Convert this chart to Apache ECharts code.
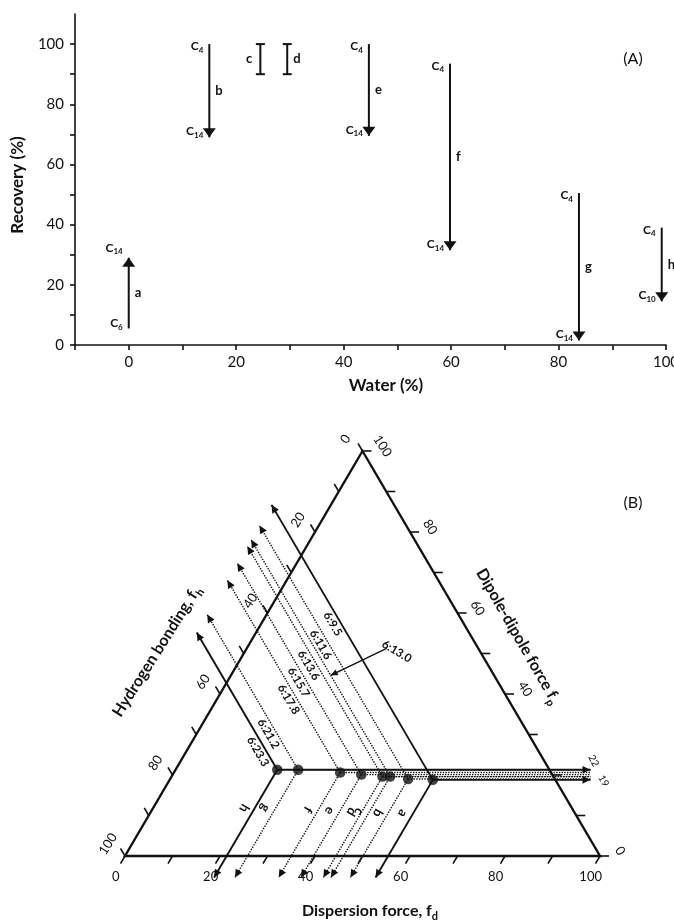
<!DOCTYPE html>
<html>
<head>
<meta charset="utf-8">
<title>Recovery and solubility parameters</title>
<script src="https://cdn.jsdelivr.net/npm/echarts@6.0.0/dist/echarts.min.js"></script>
<style>
html,body{margin:0;padding:0;background:#fff;}
#chart{width:674px;height:924px;}
</style>
</head>
<body>
<div id="chart"></div>
<script>
// ---------------- Panel A data ----------------
const caseIds   = ['a','b','c','d','e','f','g','h'];
const waterPct  = [0, 15, 24.5, 29.5, 44.7, 59.8, 83.8, 99.2];
const recFrom   = [5.5, 100, 90, 90, 100, 93.5, 50.5, 39];
const recTo     = [29, 69, 100, 100, 69.5, 31.5, 1.5, 14.5];
const fromChain = ['6','4','','','4','4','4','4'];
const toChain   = ['14','14','','','14','14','14','10'];
const isRange   = [false,false,true,true,false,false,false,false];
const xTicksA   = [-10,0,10,20,30,40,50,60,70,80,90,100];
const xLabelsA  = [0,20,40,60,80,100];
const yTicksA   = [0,10,20,30,40,50,60,70,80,90,100];
const yLabelsA  = [0,20,40,60,80,100];

// ---------------- Panel B data (ternary: fd, fp; fh = 100 - fd - fp) ----------------
const fdVals       = [55.4, 50.1, 46.0, 44.4, 39.7, 35.0, 25.8, 21.4];
const fpVals       = [18.8, 19.0, 19.6, 19.6, 20.1, 20.6, 21.3, 21.3];
const ratioLabels  = ['6:9.5','6:11.6','6:13.0','6:13.6','6:15.7','6:17.8','6:21.2','6:23.3'];
const fpReadLabels = ['19','','','','','','','22'];
const ternTicks    = [0,10,20,30,40,50,60,70,80,90,100];
const fdTickLabels = [0,20,40,60,80,100];
const fpTickLabels = [0,40,60,80,100];
const fhTickLabels = [0,20,40,60,80,100];

const FONT = 'Lato, "Open Sans", "DejaVu Sans", sans-serif';
const INK = '#111';

function seg(p, q, extra) {
  return {type:'line', shape:{x1:p[0], y1:p[1], x2:q[0], y2:q[1]},
    style:Object.assign({stroke:INK, lineWidth:1.8, fill:null}, extra || {})};
}
function unit(p, q) {
  const dx = q[0]-p[0], dy = q[1]-p[1]; const d = Math.hypot(dx, dy) || 1;
  return [dx/d, dy/d];
}
function arrowHead(tip, from, len, half) {
  const u = unit(from, tip);
  const bx = tip[0]-u[0]*len, by = tip[1]-u[1]*len;
  return {type:'polygon', shape:{points:[[tip[0],tip[1]],[bx-u[1]*half, by+u[0]*half],[bx+u[1]*half, by-u[0]*half]]},
    style:{fill:INK, stroke:null}};
}
function txt(x, y, text, size, weight, align, rot) {
  return {type:'text', x:x, y:y, rotation:rot || 0,
    style:{text:String(text), x:0, y:0, fill:INK, fontSize:size, fontWeight:weight || 'normal',
      fontFamily:FONT, align:align || 'center', verticalAlign:'middle'}};
}
function subRich(size, subSize) {
  return {
    m:{fontSize:size, fontWeight:'bold', fontFamily:FONT, fill:INK, verticalAlign:'top'},
    s:{fontSize:subSize, fontWeight:'bold', fontFamily:FONT, fill:INK, verticalAlign:'bottom',
       padding:[Math.round(size*0.5),0,0,0]}
  };
}
function chainLabel(x, y, sub) {
  return {type:'text', x:x, y:y,
    style:{text:'{m|C}{s|' + sub + '}', x:0, y:0, fill:INK, align:'right', verticalAlign:'middle',
      rich:subRich(12, 8)}};
}

// ---------- Panel A renderer ----------
function renderA(params, api) {
  const i = params.dataIndex;
  const p0 = api.coord([api.value(0), api.value(1)]);
  const p1 = api.coord([api.value(0), api.value(2)]);
  const ch = [seg(p0, p1, {lineWidth:2})];
  if (isRange[i]) {
    ch.push(seg([p0[0]-4.5, p0[1]], [p0[0]+4.5, p0[1]], {lineWidth:2}));
    ch.push(seg([p1[0]-4.5, p1[1]], [p1[0]+4.5, p1[1]], {lineWidth:2}));
  } else {
    ch.push(arrowHead(p1, p0, 9, 6.5));
    const startUpper = p0[1] < p1[1];
    ch.push(chainLabel(p0[0]-6, p0[1] + (startUpper ? 3 : -4), fromChain[i]));
    ch.push(chainLabel(p1[0]-6, p1[1] + (startUpper ? -5 : -9), toChain[i]));
  }
  const midY = (p0[1] + p1[1]) / 2;
  if (caseIds[i] === 'c') ch.push(txt(p0[0]-8, midY, caseIds[i], 13, 'bold', 'right'));
  else ch.push(txt(p0[0]+6, midY, caseIds[i], 13, 'bold', 'left'));
  return {type:'group', children:ch};
}

// ---------- Panel B renderers ----------
function tern(api, fd, fp) { return api.coord([fd + fp/2, fp]); }

function renderFrame(params, api) {
  const ch = [];
  const L = tern(api, 0, 0), R = tern(api, 100, 0), T = tern(api, 0, 100);
  ch.push({type:'polygon', shape:{points:[L, R, T]}, style:{fill:'none', stroke:INK, lineWidth:2.4}});
  const tk = 1.9;
  ternTicks.forEach(function (v) {
    ch.push(seg(tern(api, v, 0), tern(api, v, -tk), {lineWidth:1.6}));                 // fd axis
    ch.push(seg(tern(api, 100-v, v), tern(api, 100-v+tk, v), {lineWidth:1.6}));       // fp axis
    ch.push(seg(tern(api, 0, 100-v), tern(api, -tk, 100-v+tk), {lineWidth:1.6}));     // fh axis
  });
  fdTickLabels.forEach(function (v) {
    const p = tern(api, v, -5.2);
    ch.push(txt(p[0]+3, p[1], v, 13, 'normal', 'center'));
  });
  fpTickLabels.forEach(function (v) {
    const p = tern(api, 100-v, v);
    ch.push(txt(p[0]+20, p[1]-5, v, 13, 'normal', 'center', -1.0));
  });
  fhTickLabels.forEach(function (v) {
    const p = tern(api, 0, 100-v);
    ch.push(txt(p[0]-17, p[1]-12, v, 13, 'normal', 'center', 1.0));
  });
  return {type:'group', children:ch};
}

function renderSolvent(params, api) {
  const i = params.dataIndex;
  const fd = fdVals[i], fp = fpVals[i];
  const pt = tern(api, fd, fp);
  const solid = (i === 0 || i === fdVals.length - 1);
  const st = solid ? {lineWidth:1.9} : {lineWidth:1.4, lineDash:[1.4, 1.3]};
  const ch = [];
  // constant fh (up-left) reading line
  const ul = tern(api, -12.5, fd + fp + 12.5);
  ch.push(seg(pt, ul, st), arrowHead(ul, pt, 8, 3.8));
  // constant fd (down-left) reading line
  const dl = tern(api, fd, -5.3);
  ch.push(seg(pt, dl, st), arrowHead(dl, pt, 8, 3.8));
  // constant fp (right) reading line
  const rt = api.coord([98, fp]);
  ch.push(seg(pt, rt, st));
  if (solid) ch.push(arrowHead(rt, pt, 8, 3.8));
  // solvent letter on the fd line
  const d = unit(pt, dl);
  const m = tern(api, fd, fp/2);
  ch.push(txt(m[0] - d[1]*9, m[1] + d[0]*9, caseIds[i], 13, 'bold', 'center', -Math.atan2(d[1], d[0])));
  // ratio label on the fh line
  const u = unit(pt, ul);
  if (ratioLabels[i] === '6:13.0') {
    const tip = tern(api, 21, fd + fp - 21);
    const from = [tip[0]+56, tip[1]-27];
    ch.push(seg(from, tip, {lineWidth:1.4}), arrowHead(tip, from, 7, 3.2));
    ch.push(txt(tip[0]+66, tip[1]-24, ratioLabels[i], 11.5, 'bold', 'center', -0.54));
  } else {
    const q = tern(api, 16, fd + fp - 16);
    ch.push(txt(q[0] + u[1]*7.5, q[1] - u[0]*7.5, ratioLabels[i], 11.5, 'bold', 'center', -Math.atan2(-u[1], -u[0])));
  }
  if (fpReadLabels[i]) {
    const upper = fp === Math.max.apply(null, fpVals);
    ch.push(txt(rt[0] + (upper ? 3 : 13), rt[1] + (upper ? -9 : 1), fpReadLabels[i], 10, 'normal', 'center', -1.1));
  }
  return {type:'group', children:ch};
}

const chart = echarts.init(document.getElementById('chart'), null, {renderer:'canvas'});

const axisLineStyle = {color:INK, width:1.6};
const option = {
  animation:false,
  backgroundColor:'#fff',
  grid:[
    {left:75, top:14, width:591, height:331, containLabel:false, outerBoundsMode:'none'},
    {left:125, top:451, width:475, height:405, containLabel:false, outerBoundsMode:'none'}
  ],
  xAxis:[
    {gridIndex:0, type:'value', min:-10, max:100, interval:10,
      axisLine:{show:true, onZero:false, lineStyle:axisLineStyle},
      axisTick:{show:true, length:5, inside:false, customValues:xTicksA, lineStyle:axisLineStyle},
      axisLabel:{show:true, customValues:xLabelsA, margin:10, fontSize:15, color:INK, fontFamily:FONT},
      splitLine:{show:false}},
    {gridIndex:1, type:'value', min:0, max:100, show:false}
  ],
  yAxis:[
    {gridIndex:0, type:'value', min:0, max:110, interval:10,
      axisLine:{show:true, onZero:false, lineStyle:axisLineStyle},
      axisTick:{show:true, length:5, inside:false, customValues:yTicksA, lineStyle:axisLineStyle},
      axisLabel:{show:true, customValues:yLabelsA, margin:11, fontSize:15, color:INK, fontFamily:FONT},
      splitLine:{show:false}},
    {gridIndex:1, type:'value', min:0, max:100, show:false}
  ],
  series:[
    {type:'custom', name:'recovery', xAxisIndex:0, yAxisIndex:0, clip:false, silent:true,
      data:waterPct.map(function (w, i) { return [w, recFrom[i], recTo[i]]; }),
      encode:{x:0, y:[1,2]},
      renderItem:renderA},
    {type:'custom', name:'frame', xAxisIndex:1, yAxisIndex:1, clip:false, silent:true,
      data:[[0, 0]], renderItem:renderFrame},
    {type:'custom', name:'solvents', xAxisIndex:1, yAxisIndex:1, clip:false, silent:true,
      data:fdVals.map(function (fd, i) { return [fd + fpVals[i]/2, fpVals[i]]; }),
      renderItem:renderSolvent},
    {type:'scatter', name:'points', xAxisIndex:1, yAxisIndex:1, silent:true, z:5,
      symbol:'circle', symbolSize:10.5, itemStyle:{color:INK},
      data:fdVals.map(function (fd, i) { return [fd + fpVals[i]/2, fpVals[i]]; })}
  ],
  graphic:[
    {type:'text', x:18, y:185, rotation:Math.PI/2,
      style:{text:'Recovery (%)', fill:INK, fontSize:17, fontWeight:'bold', fontFamily:FONT, align:'center', verticalAlign:'middle'}},
    {type:'text', x:386, y:386,
      style:{text:'Water (%)', fill:INK, fontSize:17, fontWeight:'bold', fontFamily:FONT, align:'center', verticalAlign:'middle'}},
    {type:'text', x:633, y:59,
      style:{text:'(A)', fill:INK, fontSize:16, fontFamily:FONT, align:'center', verticalAlign:'middle'}},
    {type:'text', x:633, y:503,
      style:{text:'(B)', fill:INK, fontSize:16, fontFamily:FONT, align:'center', verticalAlign:'middle'}},
    {type:'text', x:158, y:652, rotation:1.01,
      style:{text:'{m|Hydrogen bonding, f}{s|h}', fill:INK, align:'center', verticalAlign:'middle', rich:subRich(16, 11)}},
    {type:'text', x:517, y:637, rotation:-1.05,
      style:{text:'{m|Dipole-dipole force f}{s|p}', fill:INK, align:'center', verticalAlign:'middle', rich:subRich(16, 11)}},
    {type:'text', x:370, y:912,
      style:{text:'{m|Dispersion force, f}{s|d}', fill:INK, align:'center', verticalAlign:'middle', rich:subRich(16, 11)}}
  ]
};
chart.setOption(option);
</script>
</body>
</html>
